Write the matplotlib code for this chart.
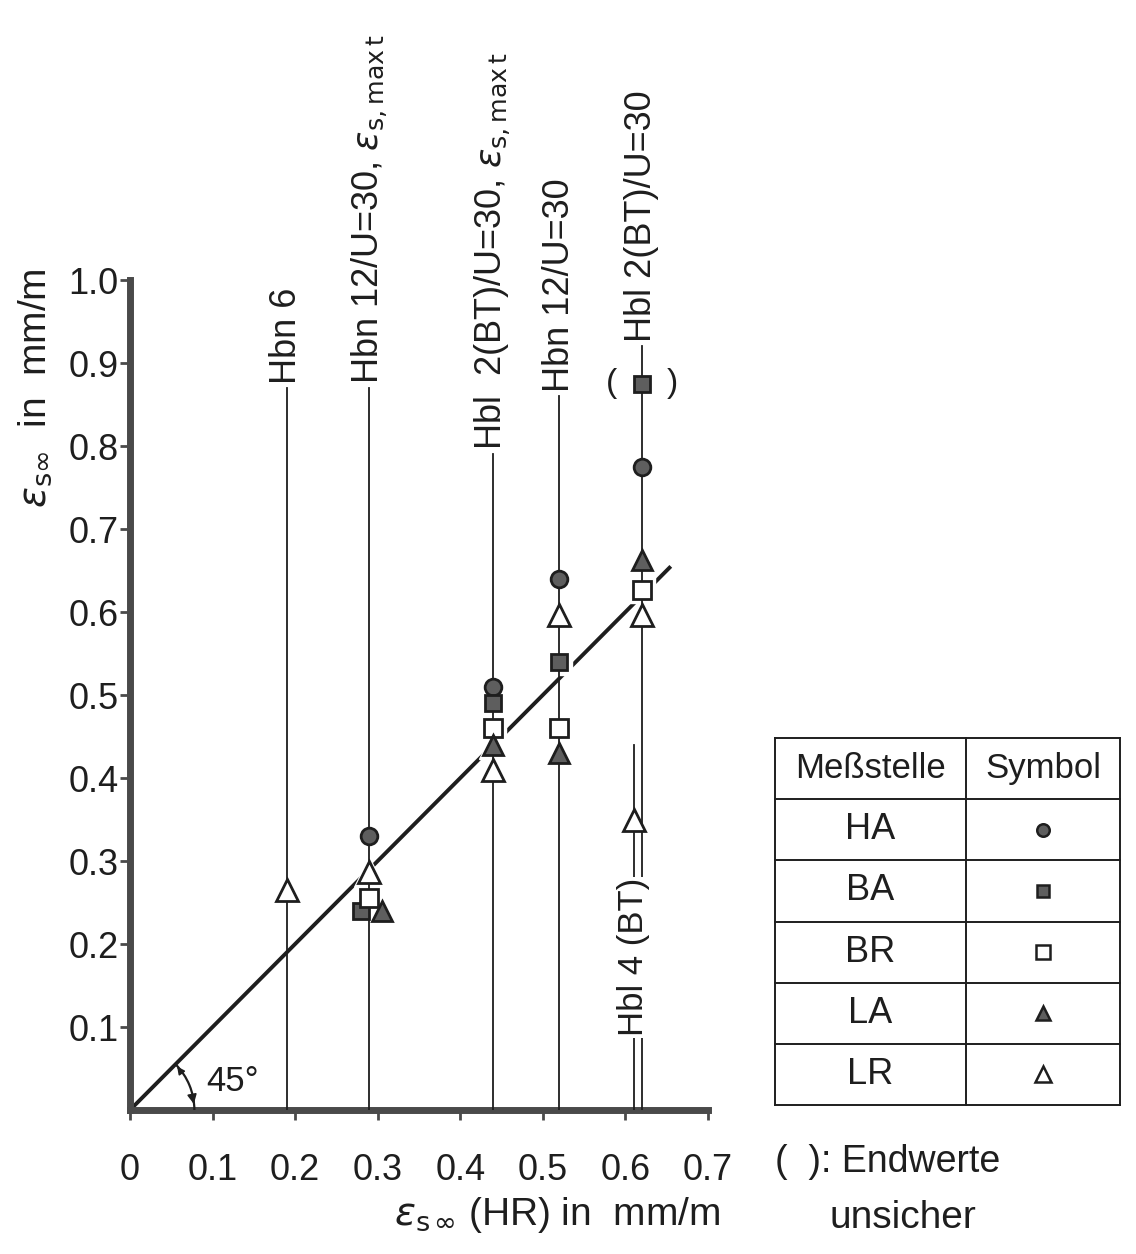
import matplotlib
matplotlib.use('Agg')
import matplotlib.pyplot as plt
from matplotlib.patches import Arc

plt.rcParams['font.family'] = ['Liberation Sans', 'DejaVu Sans']
plt.rcParams['mathtext.fontset'] = 'dejavusans'

# Load cases: vertical reference lines at the measured HR strain
case_labels = [
    'Hbn 6',
    r'Hbn 12/U=30, $\varepsilon_{\rm s,max\,t}$',
    r'Hbl  2(BT)/U=30, $\varepsilon_{\rm s,max\,t}$',
    'Hbn 12/U=30',
    'Hbl 4 (BT)',
    'Hbl 2(BT)/U=30',
]
case_x = [0.19, 0.29, 0.44, 0.52, 0.61, 0.62]
case_top = [0.87, 0.87, 0.79, 0.86, 0.44, 0.92]

# Final strain per measuring point
ha_x = [0.29, 0.44, 0.52, 0.62]
ha_y = [0.33, 0.51, 0.64, 0.775]
ba_x = [0.28, 0.44, 0.52, 0.62]
ba_y = [0.24, 0.49, 0.54, 0.875]
br_x = [0.29, 0.44, 0.52, 0.62]
br_y = [0.255, 0.46, 0.46, 0.627]
la_x = [0.305, 0.44, 0.52, 0.62]
la_y = [0.24, 0.44, 0.43, 0.663]
lr_x = [0.19, 0.29, 0.44, 0.52, 0.61, 0.62]
lr_y = [0.265, 0.287, 0.41, 0.596, 0.35, 0.596]

# 45 degree reference line
ref_x = [0.0, 0.655]

table_names = ['HA', 'BA', 'BR', 'LA', 'LR']

INK = '#1e1e1e'
FILL = '#5e5e5e'
SPINE = '#4a4a4a'

series = [
    (ha_x, ha_y, 'o', FILL, 12),
    (ba_x, ba_y, 's', FILL, 12),
    (br_x, br_y, 's', 'white', 13),
    (la_x, la_y, '^', FILL, 14),
    (lr_x, lr_y, '^', 'white', 16),
]

fig = plt.figure(figsize=(11.36, 12.54), dpi=100)
ax = fig.add_axes([0.1144, 0.1148, 0.5088, 0.6619])
ax.set_xlim(0, 0.7)
ax.set_ylim(0, 1.0)

ax.plot(ref_x, ref_x, color=INK, lw=2.8, zorder=2, solid_capstyle='butt')

# white halo so the reference line breaks around the symbols
for xs, ys, m, face, size in series:
    ax.plot(xs, ys, m, ms=size + 6, color='white', mec='white', zorder=3)

for x, top, label in zip(case_x, case_top, case_labels):
    ax.plot([x, x], [0, top], color=INK, lw=1.3, zorder=4)
    if label.startswith('Hbl 4'):
        ax.text(x, 0.184, label, rotation=90, ha='center', va='center',
                fontsize=25, color=INK, zorder=6,
                bbox=dict(facecolor='white', edgecolor='none', pad=1))
    else:
        ax.text(x, top + 0.005, label, rotation=90, ha='center', va='bottom',
                fontsize=26, color=INK, zorder=6)

for xs, ys, m, face, size in series:
    ax.plot(xs, ys, m, ms=size, mfc=face, mec=INK, mew=2.0, zorder=5, ls='none')

# uncertain final value
ax.annotate('(', (ba_x[-1], ba_y[-1]), xytext=(-22, 0), textcoords='offset points',
            ha='center', va='center', fontsize=24, color=INK)
ax.annotate(')', (ba_x[-1], ba_y[-1]), xytext=(22, 0), textcoords='offset points',
            ha='center', va='center', fontsize=24, color=INK)

# 45 degree angle mark
r = 0.078
ax.add_patch(Arc((0, 0), 2 * r, 2 * r, theta1=0, theta2=45, color=INK, lw=1.6, zorder=4))
ax.annotate('', xy=(r, 0.004), xytext=(r * 0.96, 0.02),
            arrowprops=dict(arrowstyle='-|>', color=INK, lw=1.2, mutation_scale=14))
ax.annotate('', xy=(r * 0.707, r * 0.707), xytext=(r * 0.8, r * 0.58),
            arrowprops=dict(arrowstyle='-|>', color=INK, lw=1.2, mutation_scale=11))
ax.text(0.092, 0.034, '45°', fontsize=25, color=INK, ha='left', va='center')

for side in ('top', 'right'):
    ax.spines[side].set_visible(False)
for side in ('left', 'bottom'):
    ax.spines[side].set_linewidth(5)
    ax.spines[side].set_color(SPINE)
    ax.spines[side].set_capstyle('projecting')

ax.set_xticks([0, 0.1, 0.2, 0.3, 0.4, 0.5, 0.6, 0.7])
ax.set_xticklabels(['0', '0.1', '0.2', '0.3', '0.4', '0.5', '0.6', '0.7'])
ax.set_yticks([0.1, 0.2, 0.3, 0.4, 0.5, 0.6, 0.7, 0.8, 0.9, 1.0])
ax.set_yticklabels(['0.1', '0.2', '0.3', '0.4', '0.5', '0.6', '0.7', '0.8', '0.9', '1.0'])
ax.tick_params(axis='both', direction='out', length=7, width=2, color=SPINE,
               labelsize=26, labelcolor=INK)
ax.tick_params(axis='x', pad=24)
ax.tick_params(axis='y', pad=1)

fig.text(557 / 1136, 1 - 1215 / 1254, r'$\varepsilon_{\rm s\,\infty}$ (HR) in  mm/m',
         fontsize=28, color=INK, ha='center', va='center')
fig.text(35 / 1136, 1 - 388 / 1254, r'$\varepsilon_{\rm s\infty}$  in  mm/m',
         fontsize=28, color=INK, ha='center', va='center', rotation=90)

# symbol table
tab = fig.add_axes([0.682, 0.1188, 0.304, 0.2927])
tab.set_xlim(0, 1)
tab.set_ylim(6, 0)
tab.axis('off')
for k in range(7):
    tab.plot([0, 1], [k, k], color=INK, lw=1.4, clip_on=False)
tab.plot([0, 0], [0, 6], color=INK, lw=1.4, clip_on=False)
tab.plot([1, 1], [0, 6], color=INK, lw=1.4, clip_on=False)
tab.plot([0.554, 0.554], [0, 6], color=INK, lw=1.4, clip_on=False)
tab.text(0.277, 0.5, 'Meßstelle', fontsize=25, color=INK, ha='center', va='center')
tab.text(0.777, 0.5, 'Symbol', fontsize=25, color=INK, ha='center', va='center')
for row, (name, (xs, ys, m, face, size)) in enumerate(zip(table_names, series), start=1):
    tab.text(0.277, row + 0.5, name, fontsize=26, color=INK, ha='center', va='center')
    tab.plot([0.777], [row + 0.5], m, ms=size * 0.75, mfc=face, mec=INK, mew=1.8)

fig.text(775 / 1136, 1 - 1162 / 1254, '(  ): Endwerte', fontsize=27, color=INK,
         ha='left', va='center')
fig.text(830 / 1136, 1 - 1218 / 1254, 'unsicher', fontsize=28, color=INK,
         ha='left', va='center')

fig.savefig('out.png', dpi=100, facecolor='white')
plt.close(fig)
